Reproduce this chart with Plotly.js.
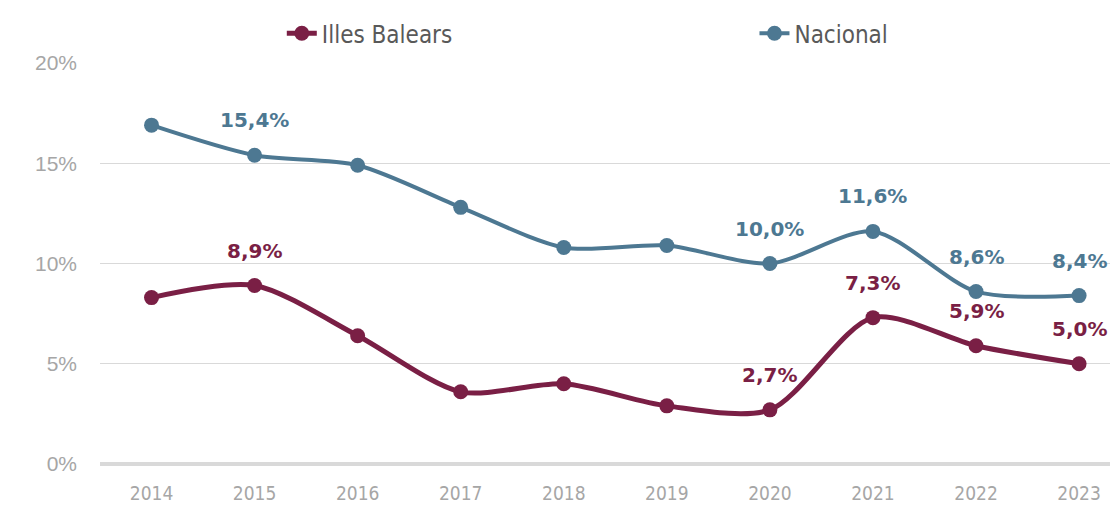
<!DOCTYPE html>
<html>
<head>
<meta charset="utf-8">
<script src="https://cdn.plot.ly/plotly-3.0.1.min.js"></script>
<style>html,body{margin:0;padding:0;background:#fff;}#chart{width:1119px;height:506px;}</style>
</head>
<body>
<div id="chart"></div>
<script>
const years = ['2014','2015','2016','2017','2018','2019','2020','2021','2022','2023'];
const balears = [8.3, 8.9, 6.4, 3.6, 4.0, 2.9, 2.7, 7.3, 5.9, 5.0];
const nacional = [16.9, 15.4, 14.9, 12.8, 10.8, 10.9, 10.0, 11.6, 8.6, 8.4];
const labelledYears = ['2015','2020','2021','2022','2023'];
const yTicks = [0, 5, 10, 15, 20];
const yTickText = ['0%', '5%', '10%', '15%', '20%'];

const cBal = '#7a1f45';
const cNac = '#4d7892';
const fmt = v => v.toFixed(1).replace('.', ',') + '%';

const traces = [
  {x: years, y: balears, name: 'Illes Balears', type: 'scatter', mode: 'lines+markers', legend: 'legend',
   line: {color: cBal, width: 5, shape: 'spline', smoothing: 0.8},
   marker: {color: cBal, size: 15}},
  {x: years, y: nacional, name: 'Nacional', type: 'scatter', mode: 'lines+markers', legend: 'legend2',
   line: {color: cNac, width: 4, shape: 'spline', smoothing: 0.8},
   marker: {color: cNac, size: 15}}
];

const annotations = [];
[[balears, cBal], [nacional, cNac]].forEach(([vals, col]) => {
  years.forEach((yr, i) => {
    if (labelledYears.indexOf(yr) >= 0) {
      annotations.push({x: i, y: vals[i], xref: 'x', yref: 'y', text: '<b>' + fmt(vals[i]) + '</b>',
        showarrow: false, yshift: 35,
        font: {family: 'DejaVu Sans, sans-serif', size: 20, color: col}});
    }
  });
});

const legendFont = {family: 'Liberation Sans Narrow, DejaVu Sans Condensed, sans-serif', size: 24, color: '#595959'};
const layout = {
  width: 1119, height: 506,
  margin: {l: 100, r: 9, t: 63, b: 42},
  paper_bgcolor: '#ffffff', plot_bgcolor: '#ffffff',
  showlegend: true,
  legend: {orientation: 'h', x: 0.18, xanchor: 'left', y: 0.978, yanchor: 'top', yref: 'container',
    bgcolor: 'rgba(0,0,0,0)', font: legendFont},
  legend2: {orientation: 'h', x: 0.648, xanchor: 'left', y: 0.978, yanchor: 'top', yref: 'container',
    bgcolor: 'rgba(0,0,0,0)', font: legendFont},
  xaxis: {type: 'category', range: [-0.5, 9.3], showgrid: false, zeroline: false, showline: false,
    ticks: '', ticklabelstandoff: 16,
    tickfont: {family: 'Liberation Sans Narrow, DejaVu Sans Condensed, sans-serif', size: 19, color: '#a6a6a6'}},
  yaxis: {range: [0, 20], tickvals: yTicks, ticktext: yTickText, showgrid: true, gridcolor: '#d9d9d9', gridwidth: 1,
    zeroline: true, zerolinecolor: '#d9d9d9', zerolinewidth: 4, showline: false, ticks: '', ticklabelstandoff: 22,
    tickfont: {family: 'Liberation Sans, Arial, sans-serif', size: 21, color: '#a6a6a6'}},
  annotations: annotations
};

Plotly.newPlot('chart', traces, layout, {displayModeBar: false, staticPlot: true});
</script>
</body>
</html>
